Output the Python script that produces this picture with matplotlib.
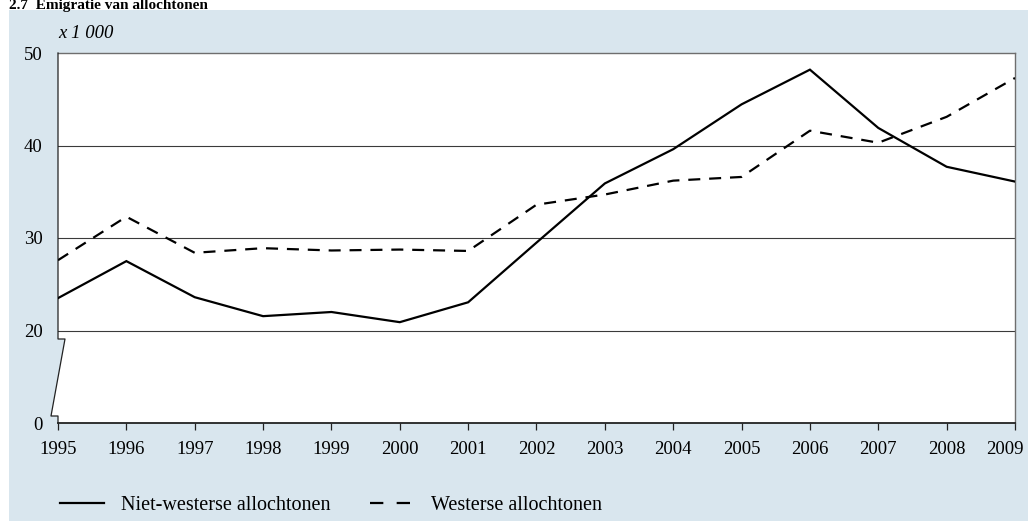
import matplotlib
matplotlib.use("Agg")
import matplotlib.pyplot as plt
import matplotlib.transforms as mtransforms
from matplotlib.patches import Rectangle, Polygon
from matplotlib.lines import Line2D

years = list(range(1995, 2010))
niet_westers = [23.5, 27.5, 23.6, 21.55, 22.0, 20.9, 23.05, 29.5, 35.9, 39.6, 44.45, 48.2, 41.9, 37.7, 36.1]
westers = [27.6, 32.3, 28.4, 28.9, 28.65, 28.75, 28.6, 33.6, 34.7, 36.2, 36.6, 41.6, 40.3, 43.1, 47.3]
ytick_vals = [10, 20, 30, 40, 50]      # 10 is the position of the broken-axis "0"
ytick_labels = ["0", "20", "30", "40", "50"]
title = "2.7  Emigratie van allochtonen"
unit_label = "x 1 000"
series_names = ["Niet-westerse allochtonen", "Westerse allochtonen"]

FONT = "Liberation Serif"
plt.rcParams["font.family"] = FONT
FS = 13.5
BG = "#d9e6ee"

W, H = 1028, 521
fig = plt.figure(figsize=(W / 100, H / 100), dpi=100, facecolor="white")

# blue panel background
fig.patches.append(Rectangle((9 / W, 0), 1 - 9 / W, 1 - 10 / H, transform=fig.transFigure,
                             facecolor=BG, edgecolor="none", zorder=-10))
fig.text(9 / W, 1 - 9.5 / H, title, fontsize=11, fontweight="bold", va="baseline", ha="left",
         zorder=5)

x0, x1 = 58 / W, 1015 / W
y0, y1 = (H - 423) / H, (H - 53) / H
ax = fig.add_axes([x0, y0, x1 - x0, y1 - y0])
ax.set_zorder(1)
ax.set_facecolor("none")
ax.set_xlim(1995, 2009)
ax.set_ylim(10, 50)

# white plot area with broken-axis zigzag on the left
tr = ax.transAxes
dx = lambda px: px / (W * (x1 - x0))
dy = lambda px: px / (H * (y1 - y0))
poly = [(0, 1), (1, 1), (1, 0), (0, 0), (0, dy(7)), (dx(-7), dy(7)), (dx(7), dy(84)), (0, dy(84))]
ax.add_patch(Polygon(poly, closed=True, transform=tr, facecolor="white", edgecolor="none",
                     zorder=0, clip_on=False))
# left spine with break
ax.add_line(Line2D([0, 0, dx(-7), dx(7), 0, 0], [0, dy(7), dy(7), dy(84), dy(84), 1],
                   transform=tr, color="#222222", lw=0.9, clip_on=False, zorder=3))
ax.spines["left"].set_visible(False)
for s in ["top", "right"]:
    ax.spines[s].set_color("#6e6e6e")
    ax.spines[s].set_linewidth(1.0)
ax.spines["bottom"].set_color("#222222")
ax.spines["bottom"].set_linewidth(1.3)

for g in [20, 30, 40]:
    ax.axhline(g, color="#3a3a3a", lw=0.8, zorder=1)

l1, = ax.plot(years, niet_westers, color="black", lw=1.6, solid_joinstyle="miter", zorder=4,
              label=series_names[0])
l2, = ax.plot(years, westers, color="black", lw=1.6, dashes=(5.4, 4.0), zorder=4,
              label=series_names[1])

ax.set_xticks(years)
ax.set_xticklabels([str(y) for y in years], fontsize=FS)
ax.tick_params(axis="x", direction="out", length=5, width=0.9, color="#222222", pad=8)
ax.set_yticks(ytick_vals)
ax.set_yticklabels(ytick_labels, fontsize=FS)
ax.tick_params(axis="y", length=0, pad=11)

# shift last x label so it stays inside the figure
lab = ax.get_xticklabels()[-1]
lab.set_transform(lab.get_transform() + mtransforms.ScaledTranslation(-10 / 100, 0, fig.dpi_scale_trans))

fig.text(x0, 1 - 33 / H, unit_label, fontsize=FS, style="italic", va="center", ha="left")

h1 = Line2D([], [], color="black", lw=1.6)
h2 = Line2D([], [], color="black", lw=1.6, dashes=(6, 6))
fig.legend(handles=[h1, h2], labels=series_names, loc="center left",
           bbox_to_anchor=(42 / W, 1 - 505 / H), ncol=2, frameon=False, fontsize=14.5,
           handlelength=2.2, handletextpad=0.8, columnspacing=2.0)

fig.savefig("out.png", dpi=100, facecolor="white")
